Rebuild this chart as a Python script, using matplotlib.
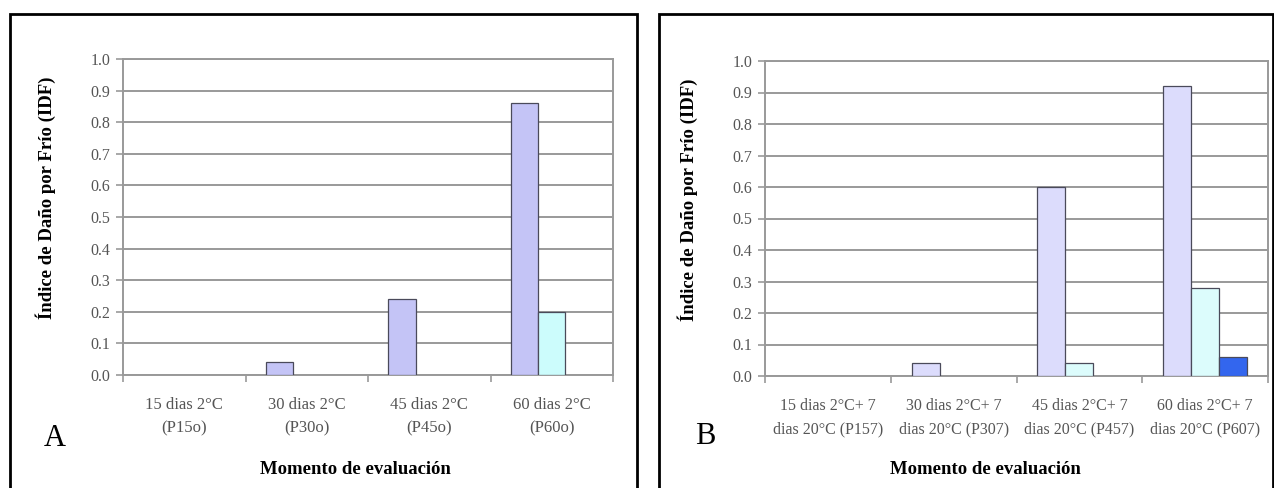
import matplotlib
matplotlib.use("Agg")
import matplotlib.pyplot as plt
from matplotlib.patches import Rectangle
import numpy as np

plt.rcParams['font.family'] = ['Liberation Serif', 'DejaVu Serif']

# ---- data ----
cats_a = ["15 dias 2°C\n(P15o)", "30 dias 2°C\n(P30o)", "45 dias 2°C\n(P45o)", "60 dias 2°C\n(P60o)"]
a_s1 = [0.0, 0.04, 0.24, 0.86]
a_s2 = [0.0, 0.0, 0.0, 0.20]
a_s3 = [0.0, 0.0, 0.0, 0.0]

cats_b = ["15 dias 2°C+ 7\ndias 20°C (P157)", "30 dias 2°C+ 7\ndias 20°C (P307)",
          "45 dias 2°C+ 7\ndias 20°C (P457)", "60 dias 2°C+ 7\ndias 20°C (P607)"]
b_s1 = [0.0, 0.04, 0.60, 0.92]
b_s2 = [0.0, 0.0, 0.04, 0.28]
b_s3 = [0.0, 0.0, 0.0, 0.06]

yticks = [0.0, 0.1, 0.2, 0.3, 0.4, 0.5, 0.6, 0.7, 0.8, 0.9, 1.0]
ylabel = "Índice de Daño por Frío (IDF)"
xlabel = "Momento de evaluación"

W, H = 1274, 488
fig = plt.figure(figsize=(W / 100, H / 100), dpi=100)

def px_axes(l, t, r, b):
    return fig.add_axes([l / W, 1 - b / H, (r - l) / W, (b - t) / H])

grid_c = "#999999"
tick_c = "#555555"

def draw(ax, cats, series, colors, catfs):
    n = len(cats)
    x = np.arange(n)
    bw = 1 / 4.5
    offs = [-bw, 0, bw]
    for vals, off, col in zip(series, offs, colors):
        lws = [0.9 if v > 0 else 0 for v in vals]
        ax.bar(x + off, vals, width=bw, color=col, edgecolor="#4a4a5a",
               linewidth=lws, zorder=3)
    ax.set_xlim(-0.5, n - 0.5)
    ax.set_ylim(0, 1.0)
    ax.set_yticks(yticks)
    ax.set_yticklabels([f"{v:.1f}" for v in yticks], color=tick_c, fontsize=11.5)
    ax.set_xticks(x)
    ax.set_xticklabels(cats, color=tick_c, fontsize=catfs, linespacing=1.6)
    ax.set_xticks(np.arange(n + 1) - 0.5, minor=True)
    ax.tick_params(axis="x", which="major", length=0, pad=16)
    ax.tick_params(axis="x", which="minor", length=5, color=grid_c, width=1.2, direction="out")
    ax.tick_params(axis="y", length=5, color=grid_c, width=1.2, direction="out", pad=4)
    ax.grid(axis="y", color=grid_c, linewidth=1.4, zorder=0)
    for s in ax.spines.values():
        s.set_color(grid_c)
        s.set_linewidth(1.4)
    ax.set_axisbelow(True)

axA = px_axes(123, 59, 613, 375)
draw(axA, cats_a, [a_s1, a_s2, a_s3], ["#c4c4f6", "#ccfcfc", "#3366ff"], 12)
axB = px_axes(765, 61, 1268, 376)
draw(axB, cats_b, [b_s1, b_s2, b_s3], ["#dcdcfc", "#dcfcfc", "#3366ee"], 11.5)

# panel frames
for (l, r) in [(10, 637), (659, 1273)]:
    fig.patches.append(Rectangle((l / W, -0.1), (r - l) / W, 1.1 - 14 / H,
                                 transform=fig.transFigure, fill=False,
                                 edgecolor="black", linewidth=2.0))

# labels
for cx, cy in [(46, 198), (688, 200)]:
    fig.text(cx / W, 1 - cy / H, ylabel, rotation=90, ha="center", va="center",
             fontsize=13.5, fontweight="bold")
for cx in [355, 985]:
    fig.text(cx / W, 1 - 469 / H, xlabel, ha="center", va="center",
             fontsize=13.5, fontweight="bold")
fig.text(55 / W, 1 - 438 / H, "A", ha="center", va="center", fontsize=22)
fig.text(705 / W, 1 - 437 / H, "B", ha="center", va="center", fontsize=22)

fig.savefig("out.png", dpi=100)
